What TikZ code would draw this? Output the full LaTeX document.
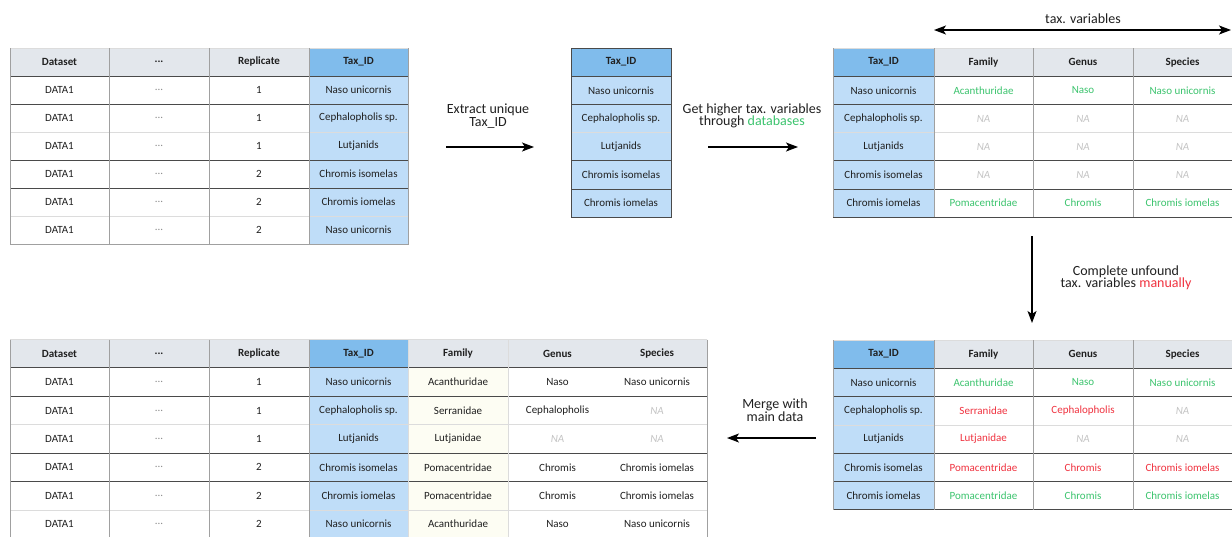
\documentclass[tikz,border=0pt]{standalone}
\usepackage{fontspec}
\setmainfont{Carlito}
\usetikzlibrary{arrows.meta}
\definecolor{hdr}{HTML}{E3E7EC}
\definecolor{taxh}{HTML}{80BCEC}
\definecolor{taxc}{HTML}{BFDDF8}
\definecolor{famc}{HTML}{FDFDF3}
\definecolor{grn}{HTML}{3CC46E}
\definecolor{rd}{HTML}{F0323F}
\definecolor{nagray}{HTML}{C4C4C4}
\definecolor{ldark}{HTML}{4A4A4A}
\definecolor{llight}{HTML}{DCDCDC}
\definecolor{lmid}{HTML}{A0A0A0}
\definecolor{txt}{HTML}{202020}
\newcommand\Cell[7]{\node[#1, minimum width=#5pt, minimum height=#6pt] (#2) at (#3,{#4}) {#7};}
\tikzset{
  x=1pt, y=-1pt,
  cellbase/.style={rectangle, anchor=north west, inner sep=0pt, outer sep=0pt, font=\fontsize{11}{12}\selectfont, text=txt},
  hd/.style={cellbase, fill=hdr, font=\fontsize{11}{12}\selectfont\bfseries},
  th/.style={cellbase, fill=taxh, font=\fontsize{11}{12}\selectfont\bfseries},
  tc/.style={cellbase, fill=taxc},
  wc/.style={cellbase, fill=white},
  fc/.style={cellbase, fill=famc},
  dots/.style={text=black!45},
  gtxt/.style={text=grn},
  rtxt/.style={text=rd},
  natxt/.style={text=nagray, font=\fontsize{11}{12}\selectfont\itshape},
  hdark/.style={draw=ldark, line width=0.9pt},
  hlight/.style={draw=llight, line width=0.7pt},
  vline/.style={draw=lmid, line width=0.6pt},
  arr/.style={line width=1.3pt, -{Stealth[length=12pt,width=9pt,inset=3pt]}},
  darr/.style={line width=1.3pt, {Stealth[length=12pt,width=9pt,inset=3pt]}-{Stealth[length=12pt,width=9pt,inset=3pt]}},
  lbl/.style={align=center, font=\fontsize{14}{12.5}\selectfont, text=txt, inner sep=0pt},
}
\begin{document}
\begin{tikzpicture}
\useasboundingbox (0,0) rectangle (1232,536);
\fill[white] (0,0) rectangle (1232,536);

% ---------------- Table 1 (top left) ----------------
\Cell{hd}{t1h1}{10}{48}{99}{28}{Dataset}
\Cell{hd}{t1h2}{109}{48}{100}{28}{...}
\Cell{hd}{t1h3}{209}{48}{100}{28}{Replicate}
\Cell{th}{t1h4}{309}{48}{99}{28}{Tax\_ID}
\foreach \i/\rep/\tax in {1/1/Naso unicornis,2/1/Cephalopholis sp.,3/1/Lutjanids,4/2/Chromis isomelas,5/2/Chromis iomelas,6/2/Naso unicornis}{
  \Cell{wc}{t1r\i-c1}{10}{48+28*\i}{99}{28}{DATA1}
  \Cell{wc,dots}{t1r\i-c2}{109}{48+28*\i}{100}{28}{...}
  \Cell{wc}{t1r\i-c3}{209}{48+28*\i}{100}{28}{\rep}
  \Cell{tc}{t1r\i-c4}{309}{48+28*\i}{99}{28}{\tax}
}
\foreach \yy in {132,216} \draw[hlight] (10,\yy) -- (408,\yy);
\foreach \yy in {76,104,160,188} \draw[hdark] (10,\yy) -- (408,\yy);
\draw[hlight] (10,48) -- (408,48);
\draw[vline] (10,48) -- (10,244) -- (408,244) -- (408,48);
\foreach \xx in {109,209,309} \draw[vline] (\xx,48) -- (\xx,244);

% ---------------- Table 2 (middle) ----------------
\Cell{th}{t2h}{571}{48}{100}{28.2}{Tax\_ID}
\foreach \i/\tax in {1/Naso unicornis,2/Cephalopholis sp.,3/Lutjanids,4/Chromis isomelas,5/Chromis iomelas}{
  \Cell{tc}{t2r\i}{571}{48+28.2*\i}{100}{28.2}{\tax}
}
\draw[hlight] (571,132.6) -- (671,132.6);
\foreach \yy in {76.2,104.4,160.8,189.0} \draw[hdark] (571,\yy) -- (671,\yy);
\draw[draw=ldark, line width=0.8pt] (571,48) rectangle (671,217.2);

% ---------------- Table 3 (top right) ----------------
\Cell{th}{t3h1}{833}{48}{101}{28.2}{Tax\_ID}
\Cell{hd}{t3h2}{934}{48}{99}{28.2}{Family}
\Cell{hd}{t3h3}{1033}{48}{100}{28.2}{Genus}
\Cell{hd}{t3h4}{1133}{48}{99}{28.2}{Species}
\Cell{tc}{t3r1-c1}{833}{76.2}{101}{28.2}{Naso unicornis}
\Cell{wc,gtxt}{t3r1-c2}{934}{76.2}{99}{28.2}{Acanthuridae}
\Cell{wc,gtxt}{t3r1-c3}{1033}{76.2}{100}{28.2}{Naso}
\Cell{wc,gtxt}{t3r1-c4}{1133}{76.2}{99}{28.2}{Naso unicornis}
\Cell{tc}{t3r2-c1}{833}{104.4}{101}{28.2}{Cephalopholis sp.}
\Cell{wc,natxt}{t3r2-c2}{934}{104.4}{99}{28.2}{NA}
\Cell{wc,natxt}{t3r2-c3}{1033}{104.4}{100}{28.2}{NA}
\Cell{wc,natxt}{t3r2-c4}{1133}{104.4}{99}{28.2}{NA}
\Cell{tc}{t3r3-c1}{833}{132.6}{101}{28.2}{Lutjanids}
\Cell{wc,natxt}{t3r3-c2}{934}{132.6}{99}{28.2}{NA}
\Cell{wc,natxt}{t3r3-c3}{1033}{132.6}{100}{28.2}{NA}
\Cell{wc,natxt}{t3r3-c4}{1133}{132.6}{99}{28.2}{NA}
\Cell{tc}{t3r4-c1}{833}{160.8}{101}{28.2}{Chromis isomelas}
\Cell{wc,natxt}{t3r4-c2}{934}{160.8}{99}{28.2}{NA}
\Cell{wc,natxt}{t3r4-c3}{1033}{160.8}{100}{28.2}{NA}
\Cell{wc,natxt}{t3r4-c4}{1133}{160.8}{99}{28.2}{NA}
\Cell{tc}{t3r5-c1}{833}{189.0}{101}{28.2}{Chromis iomelas}
\Cell{wc,gtxt}{t3r5-c2}{934}{189.0}{99}{28.2}{Pomacentridae}
\Cell{wc,gtxt}{t3r5-c3}{1033}{189.0}{100}{28.2}{Chromis}
\Cell{wc,gtxt}{t3r5-c4}{1133}{189.0}{99}{28.2}{Chromis iomelas}
\draw[hlight] (833,132.6) -- (1232,132.6);
\foreach \yy in {76.2,104.4,160.8,189.0,217.2} \draw[hdark] (833,\yy) -- (1232,\yy);
\draw[hlight] (833,48) -- (1232,48);
\draw[vline] (833,48) -- (833,217.2);
\foreach \xx in {934,1033,1133} \draw[vline] (\xx,48) -- (\xx,217.2);

% ---------------- Table 4 (bottom right) ----------------
\Cell{th}{t4h1}{833}{340}{101}{28.3}{Tax\_ID}
\Cell{hd}{t4h2}{934}{340}{99}{28.3}{Family}
\Cell{hd}{t4h3}{1033}{340}{100}{28.3}{Genus}
\Cell{hd}{t4h4}{1133}{340}{99}{28.3}{Species}
\Cell{tc}{t4r1-c1}{833}{368.3}{101}{28.3}{Naso unicornis}
\Cell{wc,gtxt}{t4r1-c2}{934}{368.3}{99}{28.3}{Acanthuridae}
\Cell{wc,gtxt}{t4r1-c3}{1033}{368.3}{100}{28.3}{Naso}
\Cell{wc,gtxt}{t4r1-c4}{1133}{368.3}{99}{28.3}{Naso unicornis}
\Cell{tc}{t4r2-c1}{833}{396.6}{101}{28.3}{Cephalopholis sp.}
\Cell{wc,rtxt}{t4r2-c2}{934}{396.6}{99}{28.3}{Serranidae}
\Cell{wc,rtxt}{t4r2-c3}{1033}{396.6}{100}{28.3}{Cephalopholis}
\Cell{wc,natxt}{t4r2-c4}{1133}{396.6}{99}{28.3}{NA}
\Cell{tc}{t4r3-c1}{833}{424.9}{101}{28.3}{Lutjanids}
\Cell{wc,rtxt}{t4r3-c2}{934}{424.9}{99}{28.3}{Lutjanidae}
\Cell{wc,natxt}{t4r3-c3}{1033}{424.9}{100}{28.3}{NA}
\Cell{wc,natxt}{t4r3-c4}{1133}{424.9}{99}{28.3}{NA}
\Cell{tc}{t4r4-c1}{833}{453.2}{101}{28.3}{Chromis isomelas}
\Cell{wc,rtxt}{t4r4-c2}{934}{453.2}{99}{28.3}{Pomacentridae}
\Cell{wc,rtxt}{t4r4-c3}{1033}{453.2}{100}{28.3}{Chromis}
\Cell{wc,rtxt}{t4r4-c4}{1133}{453.2}{99}{28.3}{Chromis iomelas}
\Cell{tc}{t4r5-c1}{833}{481.5}{101}{28.3}{Chromis iomelas}
\Cell{wc,gtxt}{t4r5-c2}{934}{481.5}{99}{28.3}{Pomacentridae}
\Cell{wc,gtxt}{t4r5-c3}{1033}{481.5}{100}{28.3}{Chromis}
\Cell{wc,gtxt}{t4r5-c4}{1133}{481.5}{99}{28.3}{Chromis iomelas}
\draw[hlight] (833,424.9) -- (1232,424.9);
\foreach \yy in {368.3,396.6,453.2,481.5,509.8} \draw[hdark] (833,\yy) -- (1232,\yy);
\draw[hlight] (833,340) -- (1232,340);
\draw[vline] (833,340) -- (833,509.8);
\foreach \xx in {934,1033,1133} \draw[vline] (\xx,340) -- (\xx,509.8);

% ---------------- Table 5 (bottom left) ----------------
\Cell{hd}{t5h1}{10}{339.5}{99}{28.4}{Dataset}
\Cell{hd}{t5h2}{109}{339.5}{100}{28.4}{...}
\Cell{hd}{t5h3}{209}{339.5}{100}{28.4}{Replicate}
\Cell{th}{t5h4}{309}{339.5}{99}{28.4}{Tax\_ID}
\Cell{hd}{t5h5}{408}{339.5}{100}{28.4}{Family}
\Cell{hd}{t5h6}{508}{339.5}{99}{28.4}{Genus}
\Cell{hd}{t5h7}{607}{339.5}{100}{28.4}{Species}
\foreach \i/\rep/\tax in {1/1/Naso unicornis,2/1/Cephalopholis sp.,3/1/Lutjanids,4/2/Chromis isomelas,5/2/Chromis iomelas,6/2/Naso unicornis}{
  \Cell{wc}{t5r\i-c1}{10}{339.5+28.4*\i}{99}{28.4}{DATA1}
  \Cell{wc,dots}{t5r\i-c2}{109}{339.5+28.4*\i}{100}{28.4}{...}
  \Cell{wc}{t5r\i-c3}{209}{339.5+28.4*\i}{100}{28.4}{\rep}
  \Cell{tc}{t5r\i-c4}{309}{339.5+28.4*\i}{99}{28.4}{\tax}
}
\foreach \i/\fa/\ge/\sp in {1/Acanthuridae/Naso/Naso unicornis,4/Pomacentridae/Chromis/Chromis iomelas,5/Pomacentridae/Chromis/Chromis iomelas,6/Acanthuridae/Naso/Naso unicornis}{
  \Cell{fc}{t5r\i-c5}{408}{339.5+28.4*\i}{100}{28.4}{\fa}
  \Cell{wc}{t5r\i-c6}{508}{339.5+28.4*\i}{99}{28.4}{\ge}
  \Cell{wc}{t5r\i-c7}{607}{339.5+28.4*\i}{100}{28.4}{\sp}
}
\Cell{fc}{t5r2-c5}{408}{396.3}{100}{28.4}{Serranidae}
\Cell{wc}{t5r2-c6}{508}{396.3}{99}{28.4}{Cephalopholis}
\Cell{wc,natxt}{t5r2-c7}{607}{396.3}{100}{28.4}{NA}
\Cell{fc}{t5r3-c5}{408}{424.7}{100}{28.4}{Lutjanidae}
\Cell{wc,natxt}{t5r3-c6}{508}{424.7}{99}{28.4}{NA}
\Cell{wc,natxt}{t5r3-c7}{607}{424.7}{100}{28.4}{NA}
\foreach \yy in {424.7,509.9} \draw[hlight] (10,\yy) -- (707,\yy);
\foreach \yy in {367.9,396.3,453.1,481.5} \draw[hdark] (10,\yy) -- (707,\yy);
\draw[hlight] (10,339.5) -- (707,339.5);
\draw[vline] (10,339.5) -- (10,540);
\draw[vline] (707,339.5) -- (707,540);
\foreach \xx in {109,209,309} \draw[vline] (\xx,339.5) -- (\xx,540);
\draw[hlight] (408,339.5) -- (408,540);
\draw[hlight] (508,339.5) -- (508,540);

% ---------------- Arrows and labels ----------------
\coordinate (a1s) at (446,147);
\coordinate (a1e) at (534,147);
\draw[arr] (a1s) -- (a1e);
\node[lbl] (l1) at (488,116) {Extract unique\\Tax\_ID};

\coordinate (a2s) at (708,147);
\coordinate (a2e) at (798,147);
\draw[arr] (a2s) -- (a2e);
\node[lbl] (l2) at (752,116) {Get higher tax. variables\\through \textcolor{grn}{databases}};

\coordinate (a3s) at (934,30);
\coordinate (a3e) at (1231,30);
\draw[darr] (a3s) -- (a3e);
\node[lbl] (l3) at (1083,19) {tax. variables};

\coordinate (a4s) at (1032,236);
\coordinate (a4e) at (1032,323);
\draw[arr] (a4s) -- (a4e);
\node[lbl] (l4) at (1126,278) {Complete unfound\\tax. variables \textcolor{rd}{manually}};

\coordinate (a5s) at (816,438);
\coordinate (a5e) at (727,438);
\draw[arr] (a5s) -- (a5e);
\node[lbl] (l5) at (775,410) {Merge with\\main data};
\end{tikzpicture}
\end{document}
